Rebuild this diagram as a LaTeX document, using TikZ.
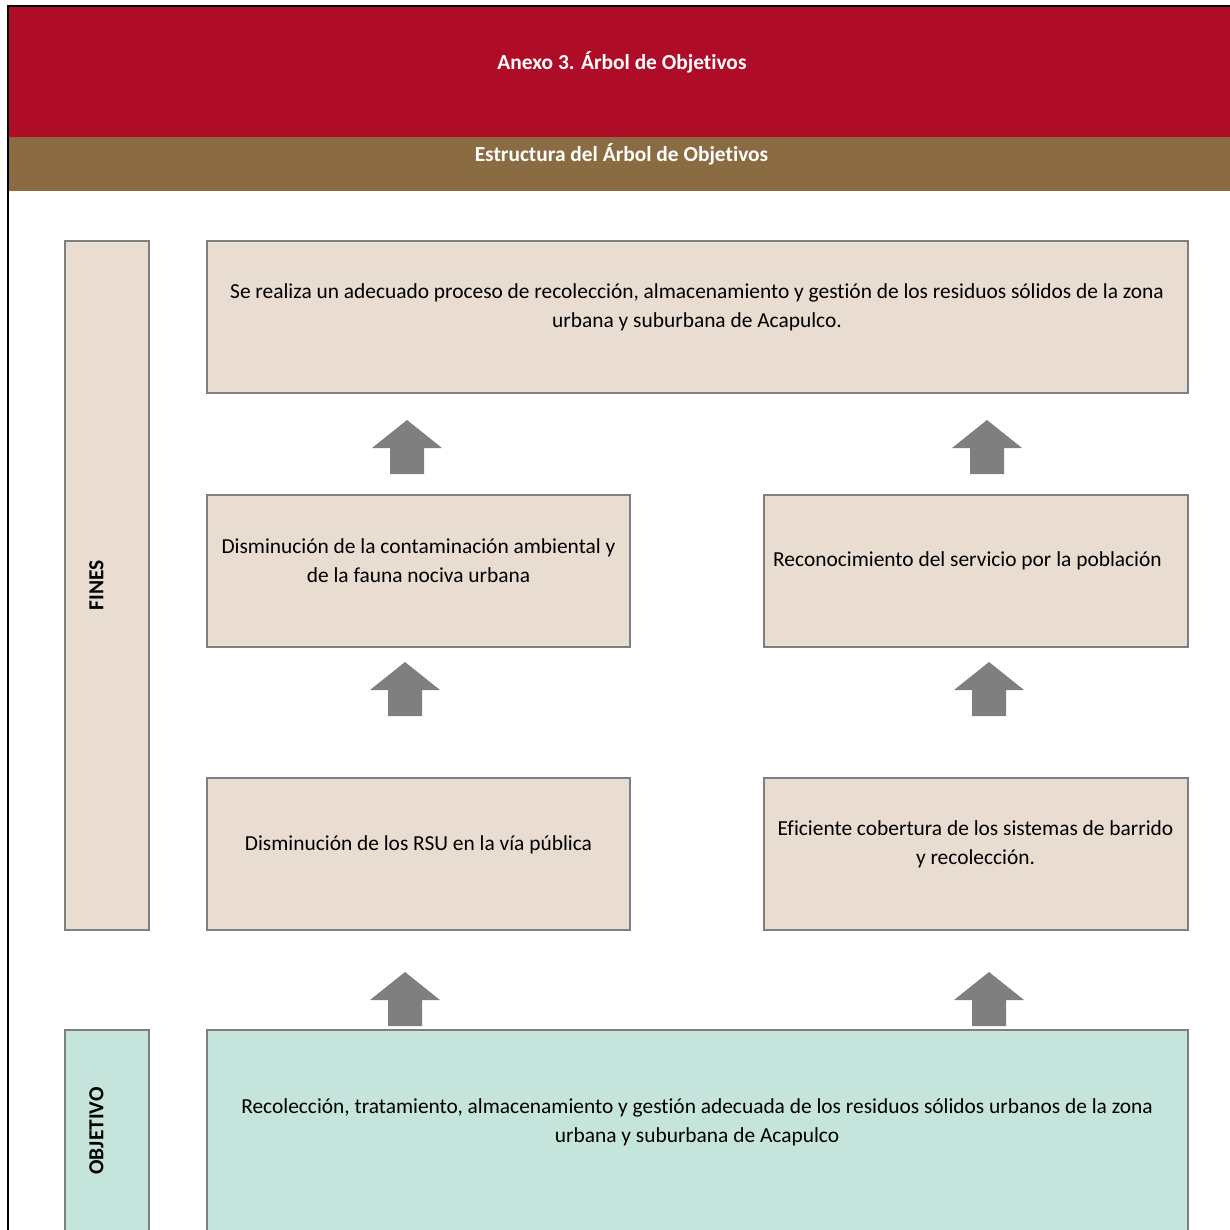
\documentclass[tikz,border=0pt]{standalone}
\usepackage{fontspec}
\setmainfont[Ligatures=NoCommon]{Carlito}
\definecolor{headred}{HTML}{AF0C28}
\definecolor{headbrown}{HTML}{8B6C42}
\definecolor{finfill}{HTML}{E8DDD0}
\definecolor{objfill}{HTML}{C5E5DC}
\definecolor{boxline}{HTML}{7F7F7F}

\begin{document}
\begin{tikzpicture}[x=1pt,y=-1pt,
   box/.style={draw=boxline,line width=2pt,fill=finfill,minimum width=#1,minimum height=152pt,inner sep=0pt},
   box/.default=423pt,
   side/.style={draw=boxline,line width=2pt,fill=finfill,minimum width=84pt,inner sep=0pt},
   txt/.style={align=center,inner sep=0pt,font=\fontsize{21.4}{29}\selectfont},
   head/.style={text=white,inner sep=0pt,font=\fontsize{21.4}{25}\selectfont\bfseries},
   upblock/.pic={\fill[boxline] (0,0) -- (35,28) -- (17,28) -- (17,54) -- (-17,54) -- (-17,28) -- (-35,28) -- cycle;}]
   \useasboundingbox (0,0) rectangle (1230,1230);
   \clip (0,0) rectangle (1230,1230);

   % cabecera
   \fill[headred] (8,6) rectangle (1240,137);
   \fill[headbrown] (8,137) rectangle (1240,191);
   \draw[black,line width=2pt] (8,1240) -- (8,6) -- (1240,6);
   \node[head] (titulo) at (622,62) {Anexo 3. Árbol de Objetivos};
   \node[head] (subtitulo) at (621.5,154) {Estructura del Árbol de Objetivos};

   % columna lateral
   \node[side,minimum height=689pt] (fines) at (107,585.5) {};
   \node[side,fill=objfill,minimum height=220pt] (objetivo) at (107,1140) {};
   \node[head,text=black,rotate=90] (tfines) at (96.5,585.5) {FINES};
   \node[head,text=black,rotate=90] (tobjetivo) at (96.5,1131) {OBJETIVO};

   % fines
   \node[box=981pt] (fin0) at (697.5,317) {};
   \node[box] (fin1a) at (418.5,571) {};
   \node[box=424pt] (fin1b) at (976,571) {};
   \node[box] (fin2a) at (418.5,854) {};
   \node[box=424pt] (fin2b) at (976,854) {};
   \node[box=981pt,fill=objfill,minimum height=220pt] (obj) at (697.5,1140) {};

   \node[txt] (t0) at (697,307) {Se realiza un adecuado proceso de recolección, almacenamiento y gestión de los residuos sólidos de la zona\\urbana y suburbana de Acapulco.};
   \node[txt] (t1a) at (418.5,560.5) {Disminución de la contaminación ambiental y\\de la fauna nociva urbana};
   \node[txt] (t1b) at (967.5,560.5) {Reconocimiento del servicio por la población};
   \node[txt] (t2a) at (418.5,844.5) {Disminución de los RSU en la vía pública};
   \node[txt] (t2b) at (975.5,844) {Eficiente cobertura de los sistemas de barrido\\y recolección.};
   \node[txt] (tobj) at (697,1122) {Recolección, tratamiento, almacenamiento y gestión adecuada de los residuos sólidos urbanos de la zona\\urbana y suburbana de Acapulco};

   % flechas
   \pic at (407,420) {upblock};
   \pic at (987,420) {upblock};
   \pic at (405,662) {upblock};
   \pic at (989,662) {upblock};
   \pic at (405,972) {upblock};
   \pic at (989,972) {upblock};
\end{tikzpicture}
\end{document}
